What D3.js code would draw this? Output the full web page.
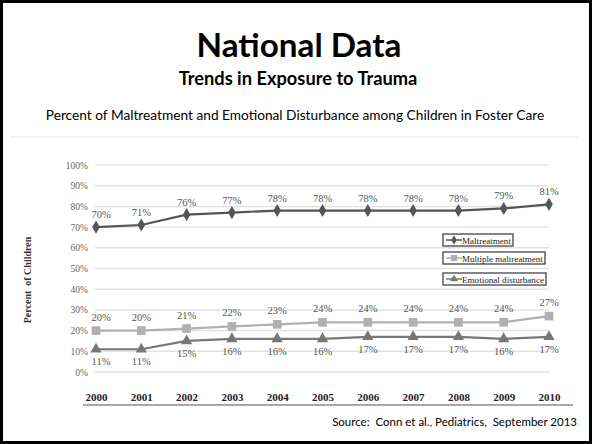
<!DOCTYPE html>
<html><head><meta charset="utf-8">
<script src="https://cdn.jsdelivr.net/npm/d3@7"></script>
<style>html,body{margin:0;padding:0;background:#fff;}svg{display:block;}</style>
</head><body>
<svg id="c" width="592" height="444"></svg>
<script>
const years = ["2000","2001","2002","2003","2004","2005","2006","2007","2008","2009","2010"];
const maltreatment = [70,71,76,77,78,78,78,78,78,79,81];
const multipleMaltreatment = [20,20,21,22,23,24,24,24,24,24,27];
const emotionalDisturbance = [11,11,15,16,16,16,17,17,17,16,17];
const yTicks = [0,10,20,30,40,50,60,70,80,90,100];
const seriesNames = ["Maltreatment","Multiple maltreatment","Emotional disturbance"];

const svg = d3.select("#c");
const W = 592, H = 444;
svg.append("rect").attr("x",1.5).attr("y",1.5).attr("width",W-3).attr("height",H-3)
  .attr("fill","#fff").attr("stroke","#000").attr("stroke-width",3);

function fit(t, target){
  const w = t.node().getComputedTextLength();
  const s = parseFloat(t.attr("font-size"));
  t.attr("font-size", s*target/w);
}
const sans = "Lato, 'Open Sans', sans-serif";
const serif = "'Liberation Serif','DejaVu Serif',serif";

fit(svg.append("text").attr("x",299).attr("y",57).attr("text-anchor","middle")
  .attr("font-family",sans).attr("font-weight","bold").attr("font-size",30).attr("fill","#000")
  .text("National Data"), 205);
fit(svg.append("text").attr("x",298).attr("y",85).attr("text-anchor","middle")
  .attr("font-family",sans).attr("font-weight","bold").attr("font-size",16).attr("fill","#000")
  .text("Trends in Exposure to Trauma"), 239);
fit(svg.append("text").attr("x",295).attr("y",120).attr("text-anchor","middle")
  .attr("font-family",sans).attr("font-size",14).attr("fill","#000")
  .text("Percent of Maltreatment and Emotional Disturbance among Children in Foster Care"), 499);
svg.append("line").attr("x1",10).attr("x2",578).attr("y1",137).attr("y2",137)
  .attr("stroke","#f0f0f0").attr("stroke-width",1.5);

const x = d3.scalePoint().domain(years).range([96,549]);
const y = d3.scaleLinear().domain([0,100]).range([372,165]);

// gridlines
svg.append("g").selectAll("line").data(yTicks).join("line")
  .attr("x1",x.range()[0]-1).attr("x2",x.range()[1])
  .attr("y1",d=>y(d)).attr("y2",d=>y(d))
  .attr("stroke","#e2e2e2").attr("stroke-width",1.5);

// y axis labels
const yAxis = d3.axisLeft(y).tickValues(yTicks).tickFormat(d=>d+"%").tickSize(0).tickPadding(0);
const ya = svg.append("g").attr("transform","translate(88,0)").call(yAxis);
ya.select(".domain").remove();
ya.selectAll("text").attr("font-family",serif).attr("font-size",9.5).attr("fill","#666");

// y title
svg.append("text").attr("transform","translate(31,280) rotate(-90)").attr("text-anchor","middle")
  .attr("font-family",serif).attr("font-weight","bold").attr("font-size",10).attr("fill","#333")
  .attr("xml:space","preserve").text("Percent  of Children");

// x axis labels
const xAxis = d3.axisBottom(x).tickSize(0).tickPadding(0);
const xa = svg.append("g").attr("transform","translate(0,393)").call(xAxis);
xa.select(".domain").remove();
xa.selectAll("text").attr("font-family",serif).attr("font-weight","bold").attr("font-size",11).attr("fill","#222");
svg.append("line").attr("x1",83).attr("x2",573).attr("y1",405).attr("y2",405)
  .attr("stroke","#a8a8a8").attr("stroke-width",2);

// source
svg.append("text").attr("x",577).attr("y",426).attr("text-anchor","end")
  .attr("font-family",sans).attr("font-size",10).attr("fill","#000")
  .attr("xml:space","preserve").text("Source:  Conn et al., Pediatrics,  September 2013")
  .call(t=>fit(t,245));

const series = [
  {name:seriesNames[0], values:maltreatment, color:"#555555", sym:d3.symbolDiamond, size:50, lab:-9},
  {name:seriesNames[1], values:multipleMaltreatment, color:"#b0b0b0", sym:d3.symbolSquare, size:75, lab:-10},
  {name:seriesNames[2], values:emotionalDisturbance, color:"#777777", sym:d3.symbolTriangle, size:55, lab:16}
];
const line = d3.line().x((d,i)=>x(years[i])).y(d=>y(d));
series.forEach(s=>{
  const g = svg.append("g");
  g.append("path").attr("d",line(s.values)).attr("fill","none").attr("stroke",s.color).attr("stroke-width",2.2);
  g.selectAll("path.m").data(s.values).join("path").attr("class","m")
    .attr("transform",(d,i)=>`translate(${x(years[i])},${y(d)})`)
    .attr("d",d3.symbol().type(s.sym).size(s.size)).attr("fill",s.color);
  g.selectAll("text").data(s.values).join("text")
    .attr("x",(d,i)=>x(years[i])+(i===0?5:0)).attr("y",d=>y(d)+s.lab)
    .attr("text-anchor","middle").attr("font-family",serif).attr("font-size",10.5).attr("fill","#555")
    .text(d=>d+"%");
});

// legend
const boxes = [{y:234,w:70},{y:252,w:102},{y:273,w:103}];
series.forEach((s,i)=>{
  const b = boxes[i];
  const g = svg.append("g").attr("transform",`translate(443,${b.y})`);
  g.append("rect").attr("x",0).attr("y",0).attr("width",b.w).attr("height",12)
    .attr("fill","#fff").attr("stroke","#444").attr("stroke-width",1.3);
  g.append("line").attr("x1",3).attr("x2",19).attr("y1",6).attr("y2",6).attr("stroke",s.color).attr("stroke-width",1.5);
  g.append("path").attr("transform","translate(11,6)").attr("d",d3.symbol().type(s.sym).size(s.size*0.5)).attr("fill",s.color);
  const t = g.append("text").attr("x",19).attr("y",9.5).attr("font-family",serif).attr("font-size",10).attr("fill","#222").text(s.name);
  fit(t, b.w-21);
});
</script>
</body></html>
